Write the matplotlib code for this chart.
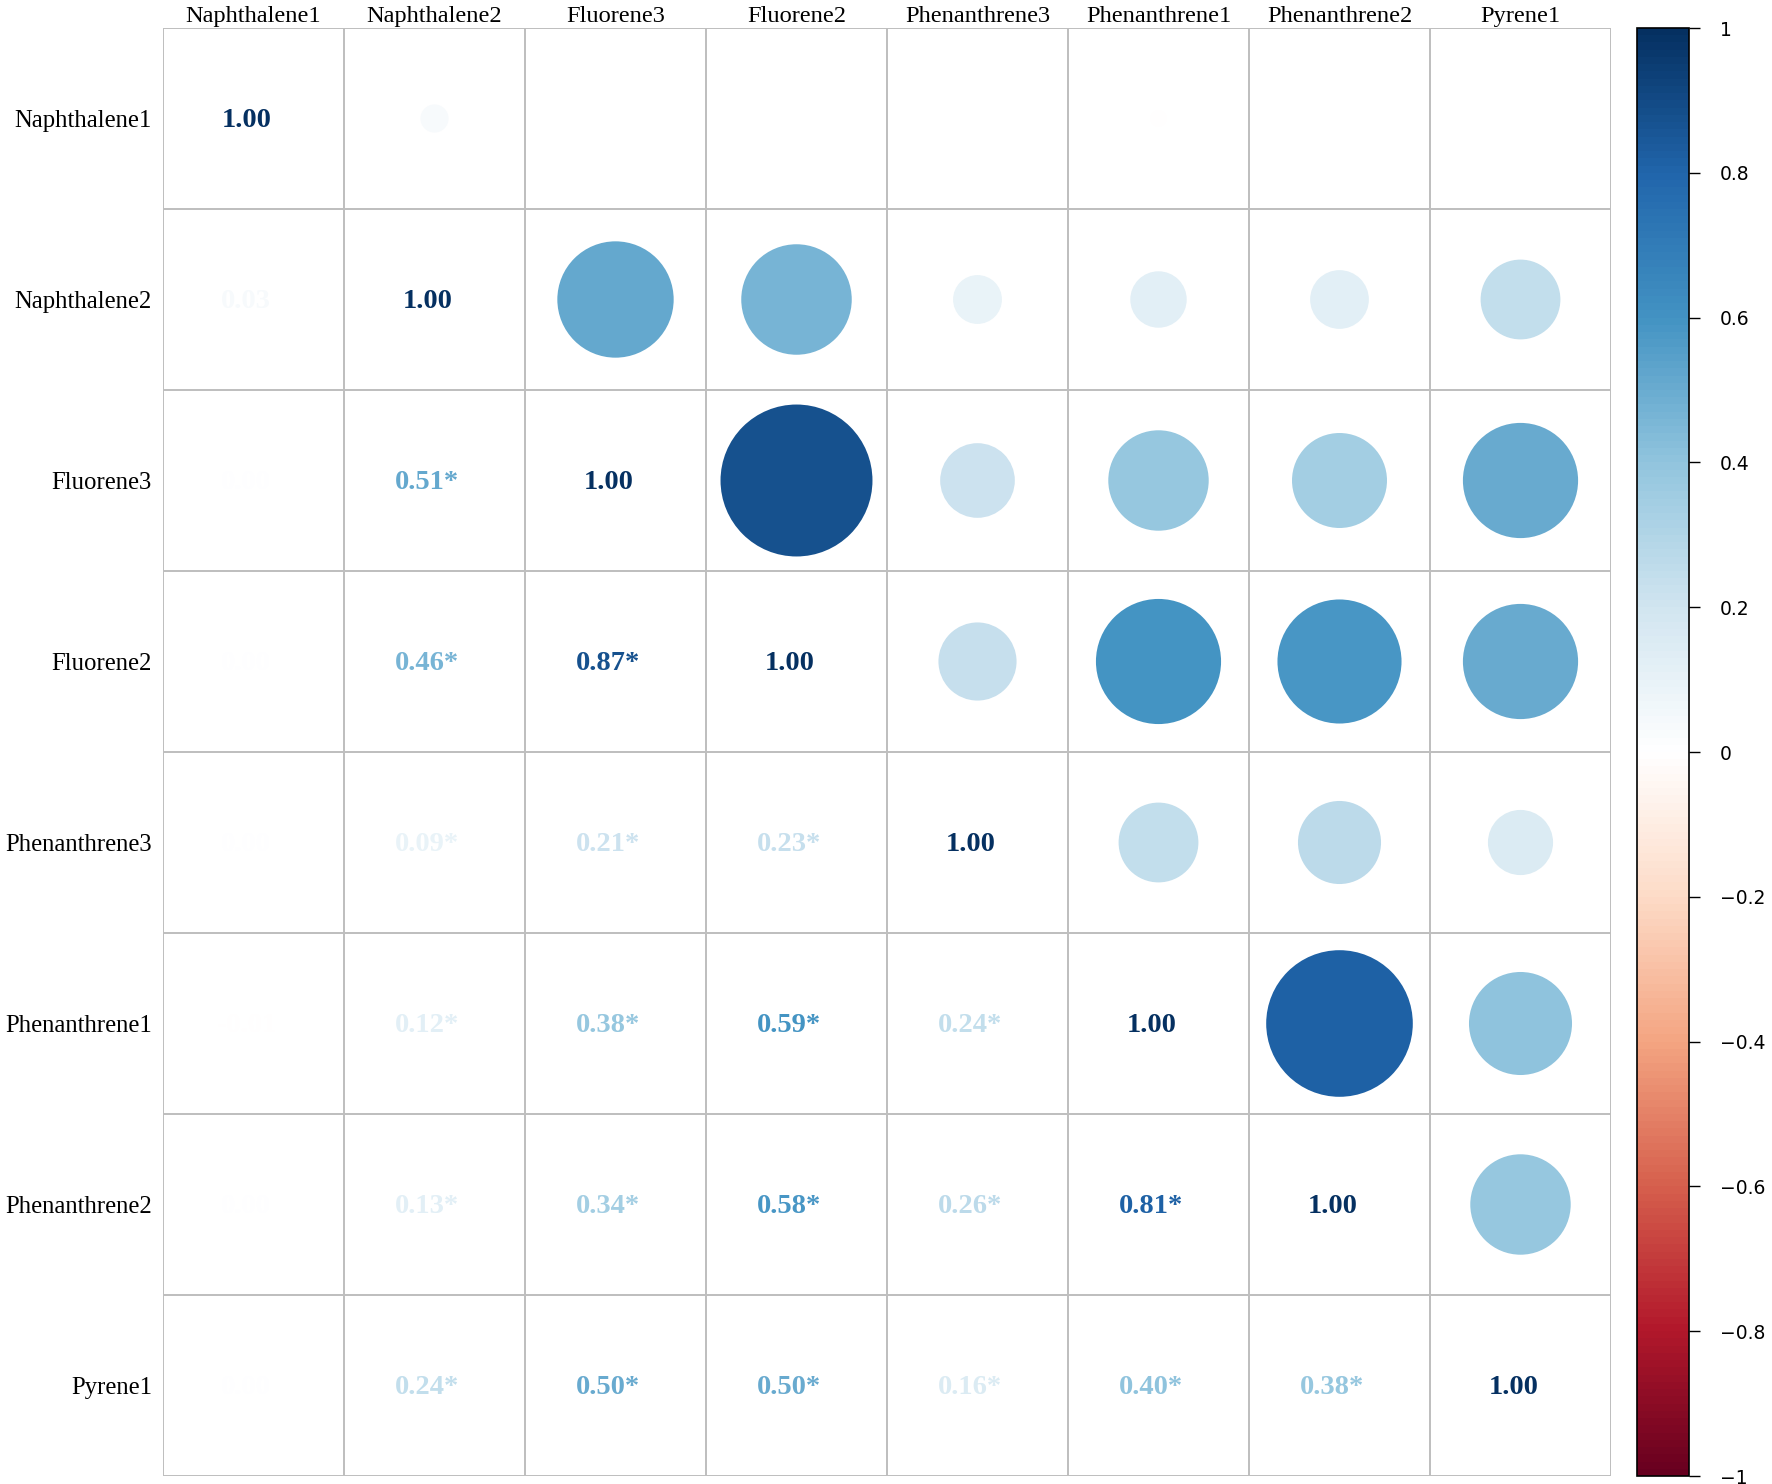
import numpy as np
import matplotlib
matplotlib.use("Agg")
import matplotlib.pyplot as plt
from matplotlib.colors import LinearSegmentedColormap, Normalize
from matplotlib.patches import Circle
from matplotlib.cm import ScalarMappable

# Variáveis (ordem do corrplot)
nomes = ['Naphthalene1', 'Naphthalene2', 'Fluorene3', 'Fluorene2',
         'Phenanthrene3', 'Phenanthrene1', 'Phenanthrene2', 'Pyrene1']

# Triângulo inferior da matriz de correlação (linha i, colunas 0..i-1)
inferior = [
    [],
    [0.03],
    [0.00, 0.51],
    [0.00, 0.46, 0.87],
    [0.00, 0.09, 0.21, 0.23],
    [-0.01, 0.12, 0.38, 0.59, 0.24],
    [0.00, 0.13, 0.34, 0.58, 0.26, 0.81],
    [0.00, 0.24, 0.50, 0.50, 0.16, 0.40, 0.38],
]
# Significância (asterisco)
signif = [
    [],
    [False],
    [False, True],
    [False, True, True],
    [False, True, True, True],
    [False, True, True, True, True],
    [False, True, True, True, True, True],
    [False, True, True, True, True, True, True],
]

n = len(nomes)
corr = np.eye(n)
for i, linha in enumerate(inferior):
    for j, v in enumerate(linha):
        corr[i, j] = v
        corr[j, i] = v

# Paleta RdBu do corrplot
cores = ["#67001F", "#B2182B", "#D6604D", "#F4A582", "#FDDBC7", "#FFFFFF",
         "#D1E5F0", "#92C5DE", "#4393C3", "#2166AC", "#053061"]
cmap = LinearSegmentedColormap.from_list("rdbu_corrplot", cores, N=200)
norm = Normalize(vmin=-1, vmax=1)

W, H = 1772, 1484
fig = plt.figure(figsize=(W / 100, H / 100), dpi=100)
ax = fig.add_axes([163 / W, 8 / H, 1448 / W, 1448 / H])
ax.set_xlim(0, n)
ax.set_ylim(n, 0)
ax.set_aspect('equal')

cinza = '#BEBEBE'
for k in range(n + 1):
    ax.axhline(k, color=cinza, lw=1.4, zorder=1)
    ax.axvline(k, color=cinza, lw=1.4, zorder=1)
for s in ax.spines.values():
    s.set_visible(False)

# Números no triângulo inferior + diagonal
for i in range(n):
    for j in range(i + 1):
        v = corr[i, j]
        txt = f"{v:.2f}"
        if i != j and signif[i][j]:
            txt += "*"
        ax.text(j + 0.46, i + 0.512, txt, ha='center', va='center',
                fontsize=20.5, fontweight='bold', family='Liberation Serif',
                color=cmap(norm(v)), zorder=3)

# Círculos no triângulo superior
for i in range(n):
    for j in range(i + 1, n):
        v = corr[i, j]
        r = 0.45 * np.sqrt(abs(v))
        ax.add_patch(Circle((j + 0.5, i + 0.5), r, facecolor=cmap(norm(v)),
                            edgecolor='none', zorder=2))

ax.xaxis.tick_top()
ax.set_xticks(np.arange(n) + 0.5)
ax.set_xticklabels(nomes, family='Liberation Serif', fontsize=17.6)
ax.set_yticks(np.arange(n) + 0.5)
ax.set_yticklabels(nomes, family='Liberation Serif', fontsize=17.8)
ax.tick_params(axis='x', length=0, pad=1)
ax.tick_params(axis='y', length=0, pad=8)

# Barra de cores
cax = fig.add_axes([1637 / W, 8 / H, 52 / W, 1448 / H])
sm = ScalarMappable(norm=norm, cmap=cmap)
cb = fig.colorbar(sm, cax=cax, ticks=np.linspace(-1, 1, 11))
rotulos = ['\u22121', '\u22120.8', '\u22120.6', '\u22120.4', '\u22120.2', '0',
           '0.2', '0.4', '0.6', '0.8', '1']
cb.set_ticklabels(rotulos)
cb.outline.set_edgecolor('black')
cb.outline.set_linewidth(1.2)
cax.tick_params(length=8, width=1, pad=14, labelsize=13.5)

fig.savefig('out.png', dpi=100)
